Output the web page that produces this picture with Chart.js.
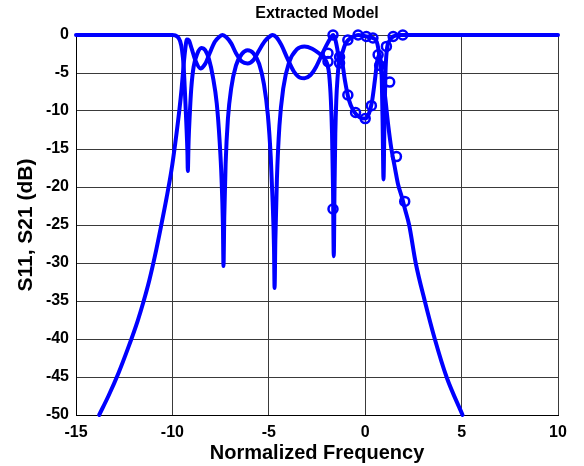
<!DOCTYPE html>
<html lang="en">
<head>
<meta charset="UTF-8">
<title>Extracted Model</title>
<script src="https://cdn.jsdelivr.net/npm/chart.js@4/dist/chart.umd.min.js"></script>
<style>
  html, body { margin: 0; padding: 0; background: #fff; }
  #wrap { width: 584px; height: 466px; }
</style>
</head>
<body>
<div id="wrap"><canvas id="grafica" width="584" height="466"></canvas></div>
<script>
// modelo: S11 (reflexion)
const freqS11 = [-15, -10, -9.75, -9.6, -9.5, -9.42, -9.35, -9.28, -9.22, -9.2, -9.16, -9.1, -9.02, -8.9, -8.7, -8.5, -8.3, -8.1, -7.9, -7.7,
  -7.55, -7.45, -7.38, -7.35, -7.31, -7.24, -7.12, -6.95, -6.7, -6.4, -6.1, -5.8, -5.5, -5.25, -5.05, -4.9, -4.8, -4.73, -4.7, -4.66,
  -4.58, -4.45, -4.25, -3.95, -3.55, -3.15, -2.75, -2.4, -2.15, -1.97, -1.87, -1.78, -1.72, -1.67, -1.63, -1.59, -1.55, -1.5, -1.43, -1.35,
  -1.27, -1.18, -1.05, -0.85, -0.6, -0.3, 0, 0.2, 0.35, 0.5, 0.62, 0.72, 0.8, 0.86, 0.9, 0.95, 1.0, 1.05, 1.12, 1.25,
  1.45, 1.8, 10];
const s11 = [0, 0, -0.2, -0.8, -2, -4, -7.5, -11.5, -15.5, -17.9, -14, -10.5, -7, -4.2, -2.4, -1.7, -2.0, -3.2, -5.5, -9,
  -14, -19, -25, -30.4, -24, -17, -11, -7, -4, -2.5, -2.0, -2.4, -3.8, -6.5, -10.5, -16, -22, -28, -33.3, -27,
  -19, -12, -7, -3.6, -1.9, -1.5, -1.8, -2.4, -3.0, -3.8, -5.2, -8.6, -13, -20, -29.1, -20, -13, -8.6, -5.5, -3.4,
  -3.0, -3.8, -6, -8.5, -10, -10.8, -11, -10.3, -8.8, -6, -3.5, -2.6, -3.3, -6, -11, -19, -11, -5, -2, -0.8,
  -0.2, 0, 0];

// modelo: S21 (transmision)
const freqS21 = [-13.8, -13.3, -12.8, -12.3, -11.8, -11.5, -11.2, -10.9, -10.6, -10.3, -10.05, -9.85, -9.64, -9.52, -9.42, -9.33, -9.25, -9.15, -9.0, -8.8,
  -8.55, -8.3, -8.05, -7.8, -7.55, -7.4, -7.2, -6.95, -6.7, -6.4, -6.1, -5.8, -5.5, -5.2, -4.9, -4.8, -4.6, -4.35, -4.05, -3.7,
  -3.4, -3.15, -2.85, -2.55, -2.25, -2.0, -1.8, -1.67, -1.55, -1.45, -1.33, -1.2, -1.05, -0.9, -0.6, -0.37, 0.06, 0.4, 0.6, 0.68,
  0.75, 0.82, 0.9, 0.97, 1.05, 1.2, 1.36, 1.55, 1.7, 1.9, 2.05, 2.28, 2.62, 3.09, 3.61, 4.22, 5.05];
const s21 = [-50, -47.4, -44.5, -41.2, -37.6, -35.1, -32.3, -29.0, -25.3, -21.4, -17.8, -14.2, -9.9, -7, -4, -1.8, -0.6, -0.7, -1.8, -3.4,
  -4.4, -3.8, -2.3, -0.9, -0.2, 0, -0.3, -1.1, -2.4, -3.5, -3.75, -3.3, -2.0, -0.8, -0.1, 0, -0.3, -1.3, -3.0, -4.8,
  -5.6, -5.7, -5.3, -4.2, -2.6, -1.3, -0.4, 0, -0.6, -1.8, -3.7, -2.5, -1.3, -0.7, -0.2, 0, -0.2, -0.4, -0.9, -1.8,
  -3.2, -4.5, -5.6, -6.8, -8.5, -12, -15, -17.6, -19.6, -21.3, -22.8, -25, -30, -35, -40, -45, -50];

// medidas (circulos)
const freqMedS11 = [-1.93, -1.67, -1.33, -0.9, -0.5, 0, 0.32, 0.67, 1.1, 1.45, 1.95];
const medS11 = [-3.5, -22.9, -2.9, -7.9, -10.2, -11, -9.3, -2.6, -1.5, -0.2, 0];
const freqMedS21 = [-1.93, -1.67, -1.33, -0.9, -0.37, 0.06, 0.4, 0.75, 1.27, 1.62, 2.05];
const medS21 = [-2.4, 0, -3.7, -0.66, 0, -0.2, -0.4, -4, -6.2, -16, -21.9];

// ejes
const ticksX = [-15, -10, -5, 0, 5, 10];
const ticksY = [-50, -45, -40, -35, -30, -25, -20, -15, -10, -5, 0];

function pares(xs, ys) {
    return xs.map((x, i) => ({ x: x, y: ys[i] }));
}

const azul = '#0000ff';
const fuente = "'Liberation Sans', Arial, Helvetica, sans-serif";

function linea(xs, ys) {
    return {
        data: pares(xs, ys),
        borderColor: azul,
        borderWidth: 4,
        borderCapStyle: 'round',
        borderJoinStyle: 'round',
        pointRadius: 0,
        cubicInterpolationMode: 'monotone',
        clip: 5
    };
}

function circulos(xs, ys) {
    return {
        data: pares(xs, ys),
        showLine: false,
        borderColor: azul,
        backgroundColor: 'rgba(0,0,0,0)',
        pointBorderWidth: 2.5,
        pointRadius: 4.5,
        pointStyle: 'circle',
        clip: 8
    };
}

new Chart(document.getElementById('grafica'), {
    type: 'line',
    data: {
        datasets: [
            linea(freqS11, s11),
            linea(freqS21, s21),
            circulos(freqMedS11, medS11),
            circulos(freqMedS21, medS21)
        ]
    },
    options: {
        responsive: false,
        animation: false,
        layout: { padding: { left: 0, right: 26, top: 0, bottom: 0 } },
        plugins: {
            legend: { display: false },
            tooltip: { enabled: false },
            title: {
                display: true,
                text: 'Extracted Model',
                fullSize: false,
                color: '#000',
                font: { family: fuente, size: 16, weight: 'bold' },
                padding: { top: 4, bottom: 11.8 }
            }
        },
        scales: {
            x: {
                type: 'linear',
                min: ticksX[0],
                max: ticksX[ticksX.length - 1],
                afterBuildTicks: s => { s.ticks = ticksX.map(v => ({ value: v })); },
                afterFit: s => { s.height = 51; },
                ticks: {
                    color: '#000',
                    padding: 8,
                    maxRotation: 0,
                    font: { family: fuente, size: 16, weight: 'bold' }
                },
                grid: { color: '#3a3a3a', lineWidth: 1, drawTicks: false },
                border: { color: '#000', width: 1 },
                title: {
                    display: true,
                    text: 'Normalized Frequency',
                    color: '#000',
                    font: { family: fuente, size: 20, weight: 'bold' },
                    padding: { top: 0, bottom: 1 }
                }
            },
            y: {
                type: 'linear',
                min: ticksY[0],
                max: ticksY[ticksY.length - 1],
                afterBuildTicks: s => { s.ticks = ticksY.map(v => ({ value: v })); },
                afterFit: s => { s.width = 76; },
                ticks: {
                    color: '#000',
                    padding: 7,
                    font: { family: fuente, size: 16, weight: 'bold' }
                },
                grid: { color: '#3a3a3a', lineWidth: 1, drawTicks: false },
                border: { color: '#000', width: 1 },
                title: {
                    display: true,
                    text: 'S11, S21 (dB)',
                    color: '#000',
                    font: { family: fuente, size: 21, weight: 'bold' },
                    padding: { top: 14, bottom: 0 }
                }
            }
        }
    }
});
</script>
</body>
</html>
